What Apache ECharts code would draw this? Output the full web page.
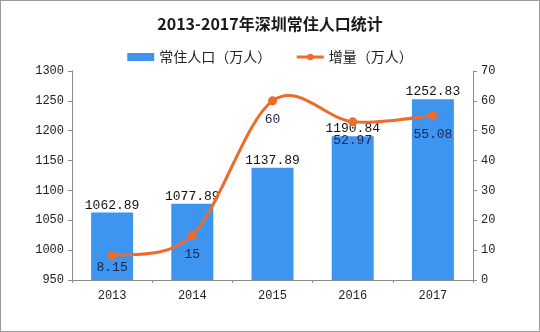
<!DOCTYPE html>
<html>
<head>
<meta charset="utf-8">
<script src="https://cdn.jsdelivr.net/npm/echarts@6/dist/echarts.min.js"></script>
<style>
  html, body { margin: 0; padding: 0; background: #fff; }
  #chart { width: 538px; height: 330px; border: 1px solid #9a9a9a; }
</style>
</head>
<body>
<div id="chart"></div>
<script>
// 深圳常住人口及年增量
const years = ['2013', '2014', '2015', '2016', '2017'];
const population = [1062.89, 1077.89, 1137.89, 1190.84, 1252.83];
const increase = [8.15, 15, 60, 52.97, 55.08];

const ORANGE = '#ec6b2d';
const BLUE = '#3d95ef';
const numFont = '"Liberation Mono", "DejaVu Sans Mono", monospace';
const cjkFont = '"Noto Sans CJK SC", sans-serif';

// Catmull-Rom spline through the line points (pixel coords from the axes)
function renderCurve(params, api) {
  if (params.dataIndex !== 0) return null;
  const pts = increase.map((v, i) => api.coord([i, v]));
  const n = pts.length;
  const at = (i) => pts[Math.max(0, Math.min(n - 1, i))];
  let d = 'M' + pts[0][0] + ',' + pts[0][1];
  for (let i = 0; i < n - 1; i++) {
    const p0 = at(i - 1), p1 = at(i), p2 = at(i + 1), p3 = at(i + 2);
    const c1x = p1[0] + (p2[0] - p0[0]) / 6, c1y = p1[1] + (p2[1] - p0[1]) / 6;
    const c2x = p2[0] - (p3[0] - p1[0]) / 6, c2y = p2[1] - (p3[1] - p1[1]) / 6;
    d += ' C' + c1x + ',' + c1y + ' ' + c2x + ',' + c2y + ' ' + p2[0] + ',' + p2[1];
  }
  return {
    type: 'path',
    shape: { pathData: d },
    style: { fill: null, stroke: ORANGE, lineWidth: 3, lineCap: 'round', lineJoin: 'round' },
    silent: true
  };
}

const lineData = increase.map((v, i) => (
  i === 0 ? { value: v, label: { distance: 1 } } : v
));

const chart = echarts.init(document.getElementById('chart'));
chart.setOption({
  backgroundColor: '#ffffff',
  animation: false,
  title: {
    text: '2013-2017年深圳常住人口统计',
    left: 'center',
    top: 10,
    textStyle: { fontFamily: cjkFont, fontSize: 16, fontWeight: 'bold', color: '#1a1a1a' }
  },
  legend: {
    top: 44,
    left: 'center',
    itemGap: 24,
    itemWidth: 27,
    itemHeight: 8,
    textStyle: { fontFamily: cjkFont, fontSize: 14, color: '#222' },
    data: [
      { name: '常住人口（万人）', icon: 'rect' },
      {
        name: '增量（万人）',
        itemStyle: { color: ORANGE, opacity: 1 },
        lineStyle: { color: ORANGE, width: 3, opacity: 1 }
      }
    ]
  },
  grid: { left: 71, right: 66, top: 70, bottom: 51 },
  xAxis: {
    type: 'category',
    data: years,
    axisLine: { lineStyle: { color: '#8c8c8c' } },
    axisTick: { show: true, length: 3, inside: false, lineStyle: { color: '#8c8c8c' } },
    axisLabel: { fontFamily: numFont, fontSize: 12, color: '#222', margin: 10 }
  },
  yAxis: [
    {
      type: 'value', min: 950, max: 1300, interval: 50,
      axisLine: { show: true, lineStyle: { color: '#8c8c8c' } },
      axisTick: { show: true, length: 4, lineStyle: { color: '#8c8c8c' } },
      splitLine: { show: false },
      axisLabel: { fontFamily: numFont, fontSize: 12, color: '#222', margin: 8, formatter: (v) => String(v) }
    },
    {
      type: 'value', min: 0, max: 70, interval: 10,
      axisLine: { show: true, lineStyle: { color: '#8c8c8c' } },
      axisTick: { show: true, length: 4, lineStyle: { color: '#8c8c8c' } },
      splitLine: { show: false },
      axisLabel: { fontFamily: numFont, fontSize: 12, color: '#222', margin: 8 }
    }
  ],
  series: [
    {
      name: '常住人口（万人）',
      type: 'bar',
      data: population,
      barWidth: 42,
      itemStyle: { color: BLUE },
      label: {
        show: true, position: 'top', distance: 1,
        fontFamily: numFont, fontSize: 13, color: '#111'
      }
    },
    {
      name: '增量曲线',
      type: 'custom',
      yAxisIndex: 1,
      data: increase,
      renderItem: renderCurve,
      z: 4
    },
    {
      name: '增量（万人）',
      type: 'line',
      yAxisIndex: 1,
      data: lineData,
      symbol: 'circle',
      symbolSize: 9,
      lineStyle: { color: ORANGE, width: 3, opacity: 0 },
      itemStyle: { color: ORANGE },
      label: {
        show: true, position: 'bottom', distance: 8,
        fontFamily: numFont, fontSize: 13, color: '#1c2452'
      },
      z: 5
    }
  ]
});
</script>
</body>
</html>
